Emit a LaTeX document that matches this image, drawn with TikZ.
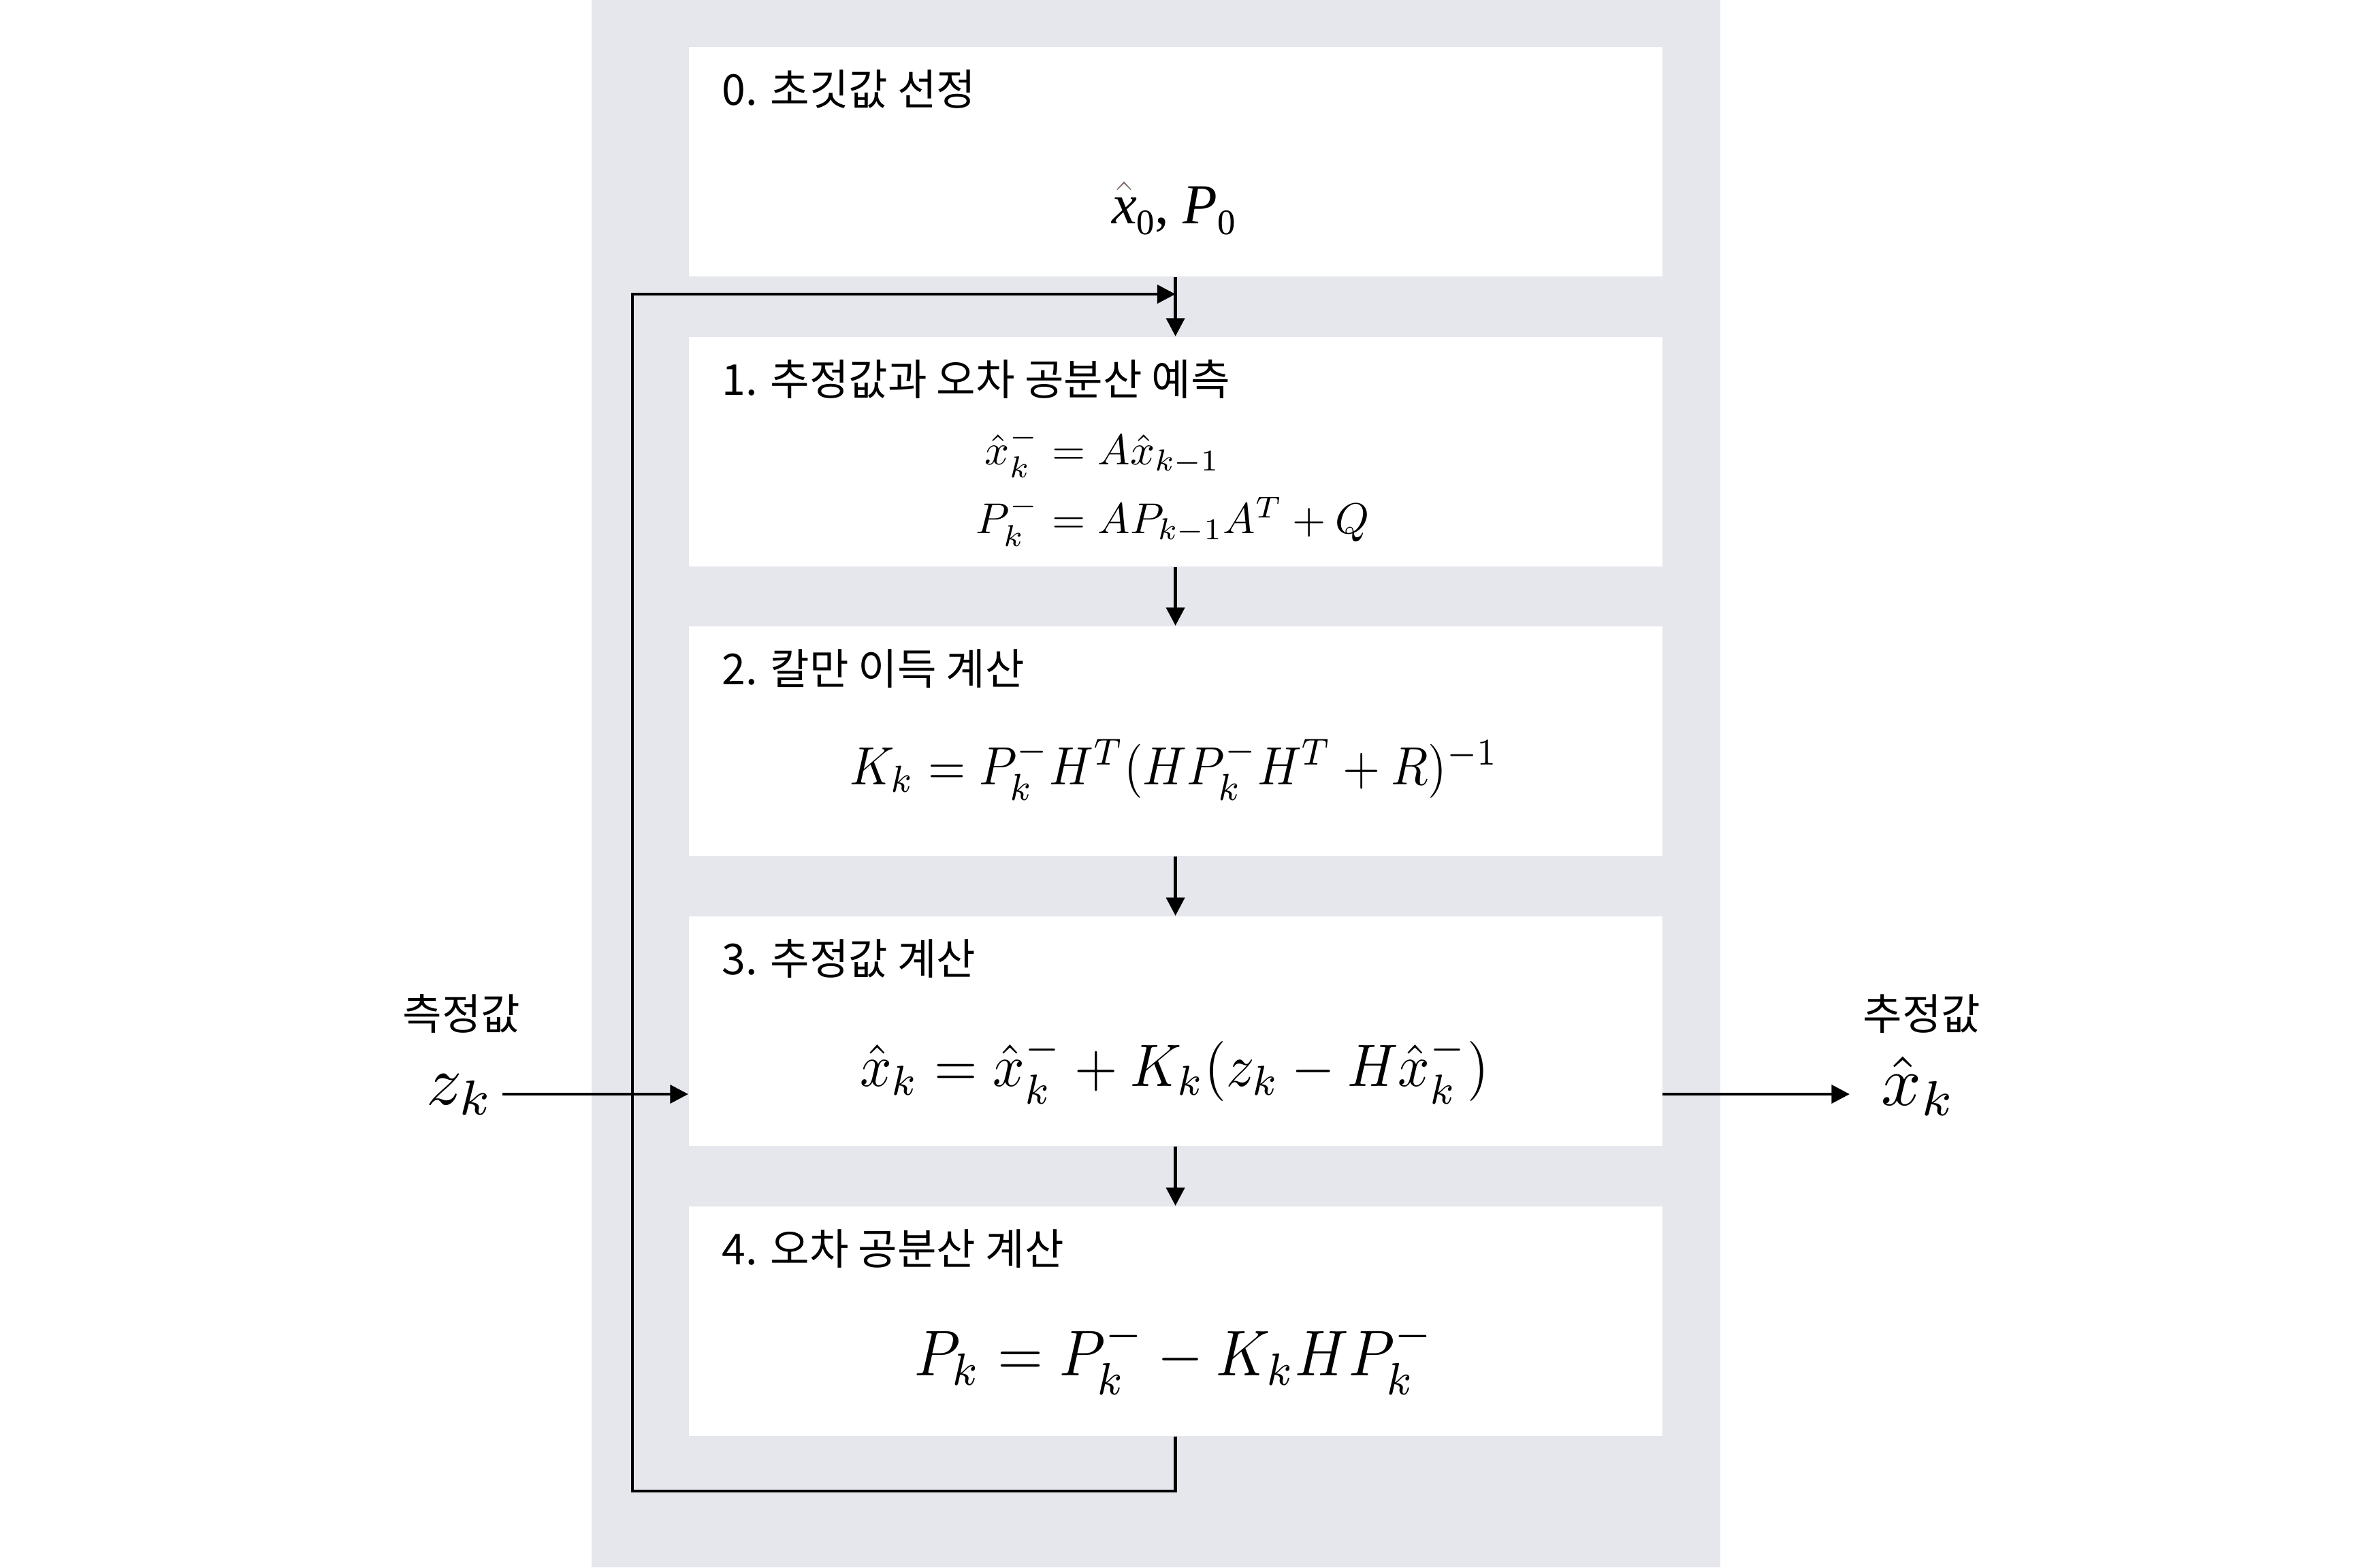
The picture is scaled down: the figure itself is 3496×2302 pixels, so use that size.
\documentclass[tikz,border=0pt]{standalone}
\usepackage{amsmath}
\usepackage{fontspec}
\usetikzlibrary{arrows.meta}
\newfontfamily\kr{Noto Sans CJK KR}
\newfontfamily\cambria{Liberation Serif}
\definecolor{panel}{RGB}{230,231,237}
\definecolor{hatc}{RGB}{133,112,108}
\begin{document}
\begin{tikzpicture}[x=0.01cm,y=-0.01cm,
  box/.style={rectangle, fill=white, draw=none, inner sep=0pt, minimum width=14.29cm, minimum height=3.37cm, anchor=north west},
  ttl/.style={anchor=base west, inner sep=0pt, font=\kr\fontsize{17.8pt}{22pt}\selectfont},
  side/.style={anchor=base, inner sep=0pt, font=\kr\fontsize{17.8pt}{22pt}\selectfont},
  flow/.style={line width=1.4pt, line join=miter, -{Triangle[length=7.6pt,width=7.6pt]}},
  eq/.style={anchor=base, inner sep=0pt},
]
\useasboundingbox (0,0) rectangle (3496,2302);
\fill[white] (0,0) rectangle (3496,2302);
\fill[panel] (869,0) rectangle (2527,2302);

\node[box] (b0) at (1011,68) {};
\node[box] (b1) at (1011,494) {};
\node[box] (b2) at (1011,919) {};
\node[box] (b3) at (1011,1345) {};
\node[box] (b4) at (1011,1771) {};

\node[ttl] (t0) at (1060,154) {0. 초깃값 선정};
\node[ttl] (t1) at (1060,580) {1. 추정값과 오차 공분산 예측};
\node[ttl] (t2) at (1060,1005) {2. 칼만 이득 계산};
\node[ttl] (t3) at (1060,1431) {3. 추정값 계산};
\node[ttl] (t4) at (1060,1857) {4. 오차 공분산 계산};

\node[eq, font=\cambria\fontsize{23.6pt}{28pt}\selectfont] (f0) at (1724,328)
  {\rlap{\textcolor{hatc}{$\hat{\hbox{\phantom{\itshape x}}}$}}\textit{x}\raisebox{-0.2em}{\fontsize{15pt}{15pt}\selectfont 0},\hspace{0.25em}\textit{P}\raisebox{-0.2em}{\fontsize{15pt}{15pt}\selectfont 0}};

\node[eq, scale=1.8, anchor=base east] (f1a) at (1527,682) {$\hat{x}_k^-$};
\node[eq, scale=1.8, anchor=base west] (f1b) at (1527,682) {${}= A\hat{x}_{k-1}$};
\node[eq, scale=1.8, anchor=base east] (f1c) at (1527,783) {$P_k^-$};
\node[eq, scale=1.8, anchor=base west] (f1d) at (1527,783) {${}= AP_{k-1}A^T + Q$};

\node[eq, xscale=2.02, yscale=2.25] (f2) at (1725,1152) {$K_k = P_k^- H^T (HP_k^- H^T + R)^{-1}$};
\node[eq, xscale=2.32, yscale=2.5] (f3) at (1725,1595) {$\hat{x}_k = \hat{x}_k^- + K_k(z_k - H\hat{x}_k^-)$};
\node[eq, xscale=2.45, yscale=2.7] (f4) at (1725,2020) {$P_k = P_k^- - K_kHP_k^-$};

\node[side] (lin) at (678,1512) {측정값};
\node[eq, scale=2.93] (zk) at (676,1622) {$z_k$};
\node[side] (lout) at (2823,1512) {추정값};
\node[eq, scale=2.93] (xk) at (2818,1623) {$\hat{x}_k$};

\coordinate (zin) at (738,1607);
\coordinate (xout) at (2717,1607);
\draw[flow] (zin) -- (b3.west |- zin);
\draw[flow] (b3.east |- xout) -- (xout);

\draw[flow] (b0.south) -- (b1.north);
\draw[flow] (b1.south) -- (b2.north);
\draw[flow] (b2.south) -- (b3.north);
\draw[flow] (b3.south) -- (b4.north);

\coordinate (fbB) at (929,2190);
\coordinate (fbT) at (929,432);
\draw[flow] (b4.south) |- (fbB) -- (fbT) -- (b0.south |- fbT);
\end{tikzpicture}
\end{document}
